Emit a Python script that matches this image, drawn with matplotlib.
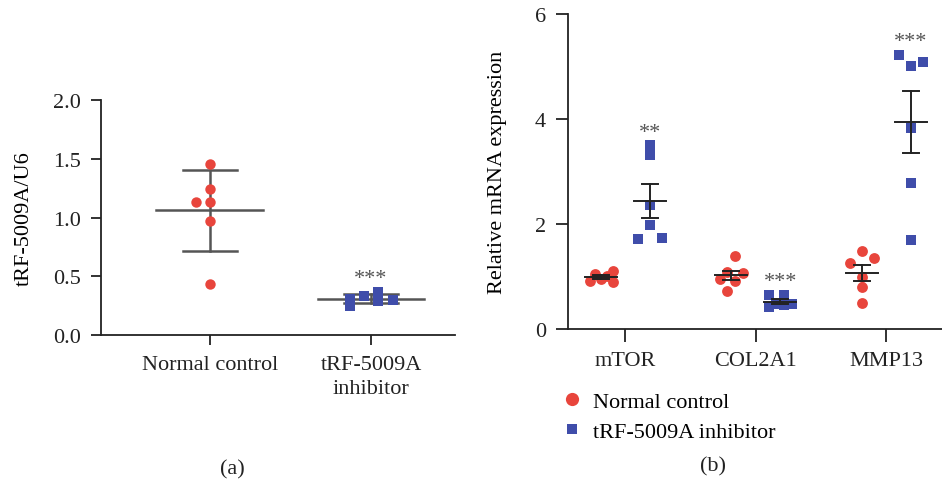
import matplotlib
matplotlib.use("Agg")
import matplotlib.pyplot as plt
from matplotlib.lines import Line2D
import numpy as np

plt.rcParams['font.family'] = ['Liberation Serif', 'DejaVu Serif']

# panel (a): tRF-5009A/U6
a_groups = ["Normal control", "tRF-5009A\ninhibitor"]
a_ctrl = [1.455, 1.243, 1.13, 1.13, 0.97, 0.437]
a_inhib = [0.25, 0.31, 0.33, 0.365, 0.29, 0.30]

# panel (b): relative mRNA expression
b_genes = ["mTOR", "COL2A1", "MMP13"]
b_ctrl = [[0.92, 1.048, 0.952, 1.015, 1.11, 0.90],
          [1.385, 1.08, 1.06, 0.952, 0.92, 0.718],
          [1.49, 1.346, 1.251, 0.997, 0.794, 0.489]]
b_inhib = [[3.50, 3.31, 2.36, 1.98, 1.714, 1.74],
           [0.653, 0.413, 0.476, 0.653, 0.463, 0.476],
           [5.225, 5.0, 5.08, 3.83, 2.78, 1.70]]
a_stars = ["", "***"]
b_stars = ["**", "***", "***"]

# horizontal scatter of the dots (layout only, in pixels)
a_ctrl_dx = [0, 0, -14, 0, 0, 0]
a_inhib_dx = [-21, -21, -7, 7, 7, 22]
b_ctrl_dx = [[-11, -6, 0, 6, 12, 12], [4, -4, 12, -11, 4, -4], [0, 12, -12, 0, 0, 0]]
b_inhib_dx = [[0, 0, 0, 0, -12, 12], [-11, -11, -4, 4, 4, 12], [-12, 0, 12, 0, 0, 0]]

red = "#E8453C"
blue = "#3F4DAA"
grey = "#555555"
ink = "#222222"

fig = plt.figure(figsize=(9.42, 4.85), dpi=100)

# ---------- (a) ----------
ax = fig.add_axes([0.1072, 0.3072, 0.3758, 0.4845])
px_a = 161.3
for i, (vals, dx, col, mk, ms) in enumerate([(a_ctrl, a_ctrl_dx, red, 'o', 7.5),
                                              (a_inhib, a_inhib_dx, blue, 's', 7)]):
    x = i + np.array(dx) / px_a
    ax.plot(x, vals, ls='none', marker=mk, ms=ms, color=col, mew=0, zorder=3)
    m = np.mean(vals)
    sd = np.std(vals, ddof=1)
    ax.plot([i - 0.33, i + 0.33], [m, m], color=grey, lw=1.8, zorder=2)
    ax.plot([i, i], [m - sd, m + sd], color=grey, lw=1.8, zorder=2)
    for y in (m - sd, m + sd):
        ax.plot([i - 0.167, i + 0.167], [y, y], color=grey, lw=1.8, zorder=2)
    if a_stars[i]:
        ax.annotate(a_stars[i], (i, max(vals)), xytext=(0, 9.5), textcoords='offset points',
                    ha='center', va='center', fontsize=16, color=grey)

ax.set_xlim(-0.674, 1.52)
ax.set_ylim(0, 2.0)
ax.set_yticks([0, 0.5, 1.0, 1.5, 2.0])
ax.set_yticklabels(["0.0", "0.5", "1.0", "1.5", "2.0"])
ax.set_xticks([0, 1])
ax.set_xticklabels(a_groups, linespacing=1.35)
ax.set_ylabel("tRF-5009A/U6", fontsize=16, labelpad=14)
for s in ("top", "right"):
    ax.spines[s].set_visible(False)
for s in ("left", "bottom"):
    ax.spines[s].set_linewidth(1.3)
    ax.spines[s].set_color(ink)
ax.tick_params(axis='both', direction='out', length=7.5, width=1.3, colors=ink,
               labelsize=16, pad=7)
fig.text(232 / 942, 1 - 470 / 485, "(a)", ha='center', va='center', fontsize=16, color=ink)

# ---------- (b) ----------
bx = fig.add_axes([0.6033, 0.3196, 0.3967, 0.6495])
px_b = 130.5
dodge = 0.188
for g in range(len(b_genes)):
    for vals, dx, col, mk, side in [(b_ctrl[g], b_ctrl_dx[g], red, 'o', -1),
                                    (b_inhib[g], b_inhib_dx[g], blue, 's', 1)]:
        c = g + side * dodge
        x = c + np.array(dx) / px_b
        bx.plot(x, vals, ls='none', marker=mk, ms=7.8, color=col, mew=0, zorder=3)
        m = np.mean(vals)
        se = np.std(vals, ddof=1) / np.sqrt(len(vals))
        bx.plot([c - 0.123, c + 0.123], [m, m], color=ink, lw=1.4, zorder=4)
        bx.plot([c, c], [m - se, m + se], color=ink, lw=1.4, zorder=4)
        for y in (m - se, m + se):
            bx.plot([c - 0.061, c + 0.061], [y, y], color=ink, lw=1.4, zorder=4)
    bx.annotate(b_stars[g], (g + dodge, max(b_inhib[g])), xytext=(0, 9.5),
                textcoords='offset points', ha='center', va='center', fontsize=16, color=grey)

bx.set_xlim(-0.437, 2.427)
bx.set_ylim(0, 6)
bx.set_yticks([0, 2, 4, 6])
bx.set_xticks(range(len(b_genes)))
bx.set_xticklabels(b_genes)
bx.set_ylabel("Relative mRNA expression", fontsize=16, labelpad=20)
for s in ("top", "right"):
    bx.spines[s].set_visible(False)
for s in ("left", "bottom"):
    bx.spines[s].set_linewidth(1.3)
    bx.spines[s].set_color(ink)
bx.tick_params(axis='both', direction='out', length=9, width=1.3, colors=ink,
               labelsize=16, pad=7)

handles = [Line2D([], [], ls='none', marker='o', ms=9.5, color=red, mew=0),
           Line2D([], [], ls='none', marker='s', ms=7.5, color=blue, mew=0)]
fig.legend(handles, ["Normal control", "tRF-5009A inhibitor"], loc='upper left',
           bbox_to_anchor=(561 / 942, 1 - 392 / 485), frameon=False, fontsize=16,
           handlelength=1.0, handletextpad=0.45, labelspacing=0.45, borderpad=0,
           borderaxespad=0)
fig.text(713 / 942, 1 - 467 / 485, "(b)", ha='center', va='center', fontsize=16, color=ink)

fig.savefig("out.png", dpi=100)
